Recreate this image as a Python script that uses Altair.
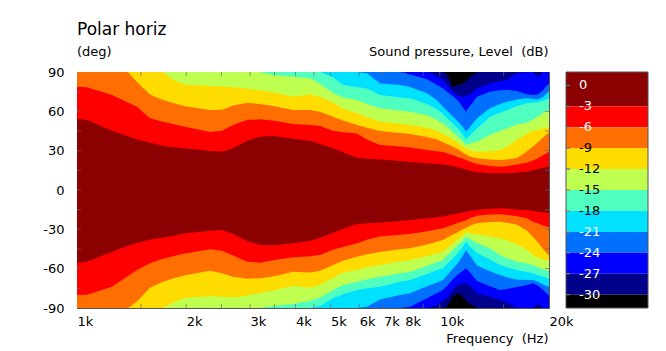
import altair as alt
import pandas as pd

# ---------------- data ----------------
freq_hz = [1000, 1065, 1249, 1382, 1463, 1589, 1726, 1839, 1985, 2326, 2510, 2692, 2942, 3195,
           3470, 3939, 4387, 4675, 5077, 5410, 5911, 6300, 6842, 7770, 8278, 9220, 9824, 10205,
           10469, 10875, 11225, 11588, 11811, 12113, 12662, 13751, 14655, 15322, 16322, 17393,
           18066, 18656, 19258, 20000]

# iso-level angles (deg) of the upper half (90 = level not reached)
up_3 = [54.2, 53.4, 45.2, 41.0, 38.6, 36.0, 33.6, 32.7, 31.8, 29.7, 29.2, 31.8, 37.6, 40.7,
        41.2, 39.1, 37.6, 35.1, 31.8, 28.8, 24.6, 23.8, 23.2, 22.2, 21.4, 20.4, 19.9, 19.5,
        19.0, 18.2, 17.2, 16.3, 15.5, 14.7, 13.5, 13.0, 12.7, 12.9, 13.4, 14.0, 15.0, 16.0, 17.0, 18.0]
up_6 = [78.8, 78.3, 72.5, 66.7, 63.5, 54.7, 52.1, 50.3, 48.3, 44.2, 45.2, 49.6, 53.4, 53.9,
        53.0, 50.3, 49.6, 48.8, 45.2, 44.0, 43.0, 38.5, 34.3, 33.2, 32.5, 30.6, 29.6, 29.0,
        28.0, 26.5, 25.0, 23.8, 22.8, 21.5, 19.8, 18.4, 17.8, 18.2, 19.5, 20.8, 22.5, 24.3, 26.5, 29.2]
up_9 = [90, 90, 90, 90, 82.3, 72.8, 68.6, 66.4, 63.8, 61.0, 61.3, 64.5, 66.6, 65.5,
        64.1, 61.0, 61.0, 59.7, 55.9, 53.0, 49.6, 47.5, 45.0, 43.5, 42.7, 40.5, 38.5, 36.5,
        35.0, 33.0, 31.0, 28.5, 27.0, 25.5, 24.2, 23.2, 22.9, 23.2, 24.4, 29.5, 33.0, 36.5, 40.0, 44.0]
up_12 = [90, 90, 90, 90, 90, 90, 90, 84.0, 80.5, 79.3, 79.0, 78.5, 77.3, 76.0,
         74.5, 71.2, 73.0, 71.2, 67.0, 62.0, 58.5, 55.5, 52.1, 50.5, 49.6, 47.5, 45.0, 42.5,
         41.0, 38.5, 36.0, 33.0, 31.5, 30.3, 29.2, 29.5, 30.5, 33.0, 38.1, 43.0, 45.0, 46.0, 47.0, 48.0]
up_15 = [90, 90, 90, 90, 90, 90, 90, 90, 90, 90, 90, 90, 90, 90,
         87.7, 86.4, 85.2, 81.0, 74.0, 70.5, 68.6, 65.5, 62.3, 60.5, 59.7, 57.0, 53.5, 50.5,
         48.3, 44.0, 40.5, 37.0, 34.3, 35.5, 36.8, 42.0, 45.0, 47.0, 50.0, 51.3, 53.5, 56.0, 58.5, 61.0]
up_18 = [90, 90, 90, 90, 90, 90, 90, 90, 90, 90, 90, 90, 90, 90,
         90, 90, 90, 90, 86.0, 80.1, 78.5, 77.5, 72.5, 70.5, 70.0, 65.5, 61.5, 58.0,
         54.7, 50.5, 47.0, 42.0, 38.5, 41.5, 47.0, 55.9, 59.0, 61.0, 64.0, 66.1, 66.5, 67.0, 68.0, 70.0]
up_21 = [90, 90, 90, 90, 90, 90, 90, 90, 90, 90, 90, 90, 90, 90,
         90, 90, 90, 90, 90, 90, 90, 89.0, 81.3, 80.1, 78.5, 73.7, 68.5, 63.5,
         60.5, 56.0, 52.0, 48.0, 44.5, 48.0, 54.7, 62.3, 65.5, 67.4, 69.0, 70.0, 69.5, 69.0, 71.0, 75.5]
up_24 = [90, 90, 90, 90, 90, 90, 90, 90, 90, 90, 90, 90, 90, 90,
         90, 90, 90, 90, 90, 90, 90, 90, 90, 90, 88.0, 84.5, 80.0, 77.5,
         75.0, 71.5, 68.0, 63.0, 59.7, 64.0, 71.2, 75.0, 76.0, 76.3, 75.5, 73.0, 72.5, 73.0, 76.0, 81.3]
up_27 = [90, 90, 90, 90, 90, 90, 90, 90, 90, 90, 90, 90, 90, 90,
         90, 90, 90, 90, 90, 90, 90, 90, 90, 90, 90, 90, 87.0, 84.0,
         80.0, 75.0, 72.0, 71.0, 72.0, 73.0, 77.5, 81.3, 83.0, 84.0, 89.0, 90, 90, 86.0, 90, 90]
up_30 = [90, 90, 90, 90, 90, 90, 90, 90, 90, 90, 90, 90, 90, 90,
         90, 90, 90, 90, 90, 90, 90, 90, 90, 90, 90, 90, 90, 90,
         88.0, 78.5, 80.0, 81.3, 83.0, 86.0, 90, 90, 90, 90, 90, 90, 90, 90, 90, 90]

# iso-level angles (deg) of the lower half (-90 = level not reached)
lo_3 = [-55.4, -54.7, -47.1, -42.5, -40.2, -38.0, -36.3, -35.0, -33.0, -31.0, -30.5, -33.6, -38.9, -41.9,
        -42.2, -40.7, -38.7, -36.5, -32.6, -29.5, -25.9, -25.3, -24.8, -23.6, -22.9, -21.5, -20.8, -20.4,
        -19.5, -18.5, -17.8, -17.0, -16.5, -15.8, -15.0, -14.3, -14.0, -14.2, -14.8, -15.3, -16.0, -16.5, -17.0, -17.5]
lo_6 = [-80.1, -79.8, -73.8, -65.5, -61.0, -55.9, -52.5, -50.5, -48.5, -45.2, -46.3, -50.0, -54.7, -55.4,
        -53.5, -51.3, -50.5, -49.5, -45.5, -43.5, -40.7, -38.0, -35.5, -34.2, -33.6, -31.5, -30.0, -29.2,
        -28.0, -26.5, -25.0, -23.8, -23.0, -21.5, -19.6, -18.7, -18.5, -19.0, -20.0, -21.5, -24.2, -25.5, -27.0, -28.5]
lo_9 = [-90, -90, -90, -90, -85.0, -74.5, -70.0, -67.5, -65.0, -61.5, -63.5, -66.1, -67.6, -67.3,
        -66.0, -62.3, -63.0, -61.5, -57.2, -54.0, -50.9, -49.0, -47.3, -45.2, -44.5, -41.5, -39.5, -38.1,
        -36.5, -34.0, -32.0, -30.0, -28.8, -27.0, -25.3, -24.5, -24.2, -25.0, -26.5, -31.0, -35.6, -40.0, -45.0, -50.0]
lo_12 = [-90, -90, -90, -90, -90, -90, -90, -86.0, -82.3, -81.0, -81.4, -82.0, -80.5, -78.5,
         -76.8, -73.0, -74.5, -72.5, -67.0, -63.0, -61.0, -59.0, -57.2, -54.5, -53.4, -50.5, -48.5, -47.1,
         -44.5, -41.0, -37.5, -34.5, -32.0, -33.0, -34.0, -35.5, -36.9, -38.5, -41.5, -45.5, -49.6, -51.5, -53.0, -54.0]
lo_15 = [-90, -90, -90, -90, -90, -90, -90, -90, -90, -90, -90, -90, -90, -90,
         -88.5, -87.0, -84.4, -82.0, -76.3, -72.5, -69.9, -68.0, -66.1, -63.5, -62.3, -58.0, -55.0, -53.4,
         -50.0, -45.5, -42.0, -38.5, -35.5, -37.5, -40.5, -44.5, -49.6, -52.0, -54.5, -56.0, -57.2, -59.0, -60.5, -62.0]
lo_18 = [-90, -90, -90, -90, -90, -90, -90, -90, -90, -90, -90, -90, -90, -90,
         -90, -90, -90, -88.5, -82.6, -79.5, -76.3, -75.0, -73.8, -70.0, -68.6, -64.0, -61.0, -59.7,
         -56.5, -52.0, -48.0, -43.0, -39.4, -43.0, -48.0, -53.0, -57.2, -59.0, -61.0, -62.5, -63.5, -65.0, -66.0, -67.5]
lo_21 = [-90, -90, -90, -90, -90, -90, -90, -90, -90, -90, -90, -90, -90, -90,
         -90, -90, -90, -90, -90, -90, -90, -89.0, -83.5, -80.0, -78.8, -73.5, -70.5, -68.6,
         -65.0, -60.0, -55.5, -50.0, -45.8, -50.0, -57.5, -62.0, -64.8, -66.5, -68.5, -68.6, -68.6, -70.0, -72.0, -73.8]
lo_24 = [-90, -90, -90, -90, -90, -90, -90, -90, -90, -90, -90, -90, -90, -90,
         -90, -90, -90, -90, -90, -90, -90, -90, -90, -90, -89.0, -82.6, -78.5, -76.3,
         -73.0, -68.0, -64.5, -61.5, -59.7, -63.0, -69.5, -73.5, -76.3, -75.5, -74.0, -72.5, -71.2, -73.0, -76.0, -80.5]
lo_27 = [-90, -90, -90, -90, -90, -90, -90, -90, -90, -90, -90, -90, -90, -90,
         -90, -90, -90, -90, -90, -90, -90, -90, -90, -90, -90, -90, -88.0, -84.0,
         -82.6, -76.0, -72.5, -71.5, -71.2, -73.5, -79.0, -81.5, -83.9, -86.0, -90, -90, -90, -86.4, -90, -90]
lo_30 = [-90, -90, -90, -90, -90, -90, -90, -90, -90, -90, -90, -90, -90, -90,
         -90, -90, -90, -90, -90, -90, -90, -90, -90, -90, -90, -90, -90, -90,
         -89.0, -81.0, -79.0, -81.5, -84.0, -87.0, -90, -90, -90, -90, -90, -90, -90, -90, -90, -90]

levels = [0, -3, -6, -9, -12, -15, -18, -21, -24, -27, -30]
level_colors = ["#8b0000", "#ff0000", "#ff6e00", "#ffdc00", "#bfff50", "#50ffbf",
                "#00e0ff", "#0070ff", "#0000ff", "#00008b", "#000000"]
white_label_levels = [0, -3, -6, -21, -24, -27, -30]
black_label_levels = [-9, -12, -15, -18]
cb_tick_colors = ["#3f8f8f", "#3f8f8f", "#607890", "#4060b0", "#3050c0", "#e05030",
                  "#c07050", "#b0a030", "#808080", "#a0a030", "#808080"]
cb_top, cb_bottom = 1.9, -31.9

x_tick_vals = [1500, 2000, 2500, 3000, 3500, 4000, 4500, 5000, 6000, 7000, 8000, 9000, 10000, 15000]
x_label_vals = [1000, 2000, 3000, 4000, 5000, 6000, 7000, 8000, 10000, 20000]
y_tick_vals = [-75, -60, -45, -30, -15, 0, 15, 30, 45, 60, 75]
y_label_vals = [-90, -60, -30, 0, 30, 60, 90]

upper = [up_3, up_6, up_9, up_12, up_15, up_18, up_21, up_24, up_27, up_30]
lower = [lo_3, lo_6, lo_9, lo_12, lo_15, lo_18, lo_21, lo_24, lo_27, lo_30]

# ---------------- chart ----------------
FONT = "DejaVu Sans"
x_scale = alt.Scale(type="log", domain=[1000, 20000], nice=False)
y_scale = alt.Scale(domain=[-90, 90], nice=False, zero=False)
x_axis = alt.Axis(values=x_label_vals, labelExpr="datum.value / 1000 + 'k'", orient="bottom",
                  ticks=False, tickSize=0, domain=False, grid=False, title=None,
                  labelAlign="left", labelBaseline="alphabetic", labelPadding=17,
                  labelFlush=False, labelOverlap=False, labelBound=False,
                  labelFont=FONT, labelFontSize=13, labelColor="black")
y_axis = alt.Axis(values=y_label_vals, labelExpr="'' + datum.value", orient="left",
                  ticks=False, tickSize=0, domain=False, grid=False, title=None,
                  labelAlign="right", labelBaseline="middle", labelPadding=13,
                  labelFlush=False, labelOverlap=False, labelBound=False,
                  labelFont=FONT, labelFontSize=13, labelColor="black")

X = alt.X("freq:Q", scale=x_scale, axis=x_axis)
Y = alt.Y("ang:Q", scale=y_scale, axis=y_axis)

bg = alt.Chart(pd.DataFrame({"freq": [1000], "freq2": [20000], "ang": [-90], "ang2": [90]})).mark_rect(
    color=level_colors[0]).encode(x=X, x2="freq2:Q", y=Y, y2="ang2:Q")

layers = [bg]
for i, ang in enumerate(upper):
    df = pd.DataFrame({"freq": freq_hz, "ang": ang, "edge": [90] * len(freq_hz)})
    layers.append(alt.Chart(df).mark_area(color=level_colors[i + 1], interpolate="linear").encode(
        x=X, y=Y, y2="edge:Q"))
for i, ang in enumerate(lower):
    df = pd.DataFrame({"freq": freq_hz, "ang": ang, "edge": [-90] * len(freq_hz)})
    layers.append(alt.Chart(df).mark_area(color=level_colors[i + 1], interpolate="linear").encode(
        x=X, y=Y, y2="edge:Q"))

xt = pd.DataFrame({"freq": x_tick_vals * 2, "ang": [-90] * len(x_tick_vals) + [90] * len(x_tick_vals)})
yt = pd.DataFrame({"freq": [1000] * len(y_tick_vals) + [20000] * len(y_tick_vals), "ang": y_tick_vals * 2})
layers.append(alt.Chart(xt).mark_tick(orient="vertical", size=8, thickness=1, color="#5f6b70",
                                      clip=True).encode(x=X, y=Y))
layers.append(alt.Chart(yt).mark_tick(orient="horizontal", size=8, thickness=1, color="#5f6b70",
                                      clip=True).encode(x=X, y=Y))

def label(text, x, y, size=13, align="left"):
    return alt.Chart(pd.DataFrame({"t": [text]})).mark_text(
        align=align, baseline="alphabetic", font=FONT, fontSize=size, color="black").encode(
        x=alt.value(x), y=alt.value(y), text="t:N")

layers.append(label("Polar horiz", 0, -37, size=17))
layers.append(label("(deg)", 0, -16.5))
layers.append(label("Sound pressure, Level \u00a0(dB)", 471.5, -16.5, align="right"))
layers.append(label("Frequency \u00a0(Hz)", 471.5, 270.5, align="right"))

main = alt.layer(*layers)

# colour bar
cbx = alt.Scale(domain=[0, 1], range=[489, 571])
cby = alt.Scale(domain=[cb_bottom, cb_top], nice=False, zero=False)
tops = [cb_top] + levels[1:]
bots = levels[1:] + [cb_bottom]
cb_df = pd.DataFrame({"x0": [0] * len(levels), "x1": [1] * len(levels), "hi": tops, "lo": bots,
                      "col": level_colors, "v": levels, "tc": cb_tick_colors,
                      "xt": [0.05] * len(levels)})
CX = alt.X("x0:Q", scale=cbx, axis=None)
CY = alt.Y("v:Q", scale=cby, axis=None)
cb_rects = alt.Chart(cb_df).mark_rect().encode(
    x=CX, x2="x1:Q", y=alt.Y("lo:Q", scale=cby, axis=None), y2="hi:Q",
    color=alt.Color("col:N", scale=None))
cb_ticks = alt.Chart(cb_df).mark_rule(strokeWidth=1).encode(
    x=CX, x2="xt:Q", y=CY, color=alt.Color("tc:N", scale=None))


def cb_labels(vals, colour):
    d = pd.DataFrame({"v": vals, "lab": [str(v) for v in vals], "xl": [0.16] * len(vals)})
    return alt.Chart(d).mark_text(align="left", baseline="middle", font=FONT, fontSize=13,
                                  color=colour).encode(
        x=alt.X("xl:Q", scale=cbx, axis=None), y=CY, text="lab:N")


cb_border = alt.Chart(pd.DataFrame({"x0": [0], "x1": [1], "lo": [cb_bottom], "hi": [cb_top]})).mark_rect(
    fill=None, stroke="#555555", strokeWidth=1).encode(
    x=CX, x2="x1:Q", y=alt.Y("lo:Q", scale=cby, axis=None), y2="hi:Q")
cbar = alt.layer(cb_rects, cb_ticks, cb_labels(white_label_levels, "white"),
                 cb_labels(black_label_levels, "black"), cb_border)

chart = alt.layer(main, cbar).resolve_scale(x="independent", y="independent").properties(
    width=472, height=236,
    padding={"left": 77, "top": 72, "right": 117, "bottom": 43},
    autosize=alt.AutoSizeParams(type="none"),
).configure_view(stroke="#555555", strokeWidth=1)

chart.save("out.html", embed_options={"renderer": "svg", "actions": False})
